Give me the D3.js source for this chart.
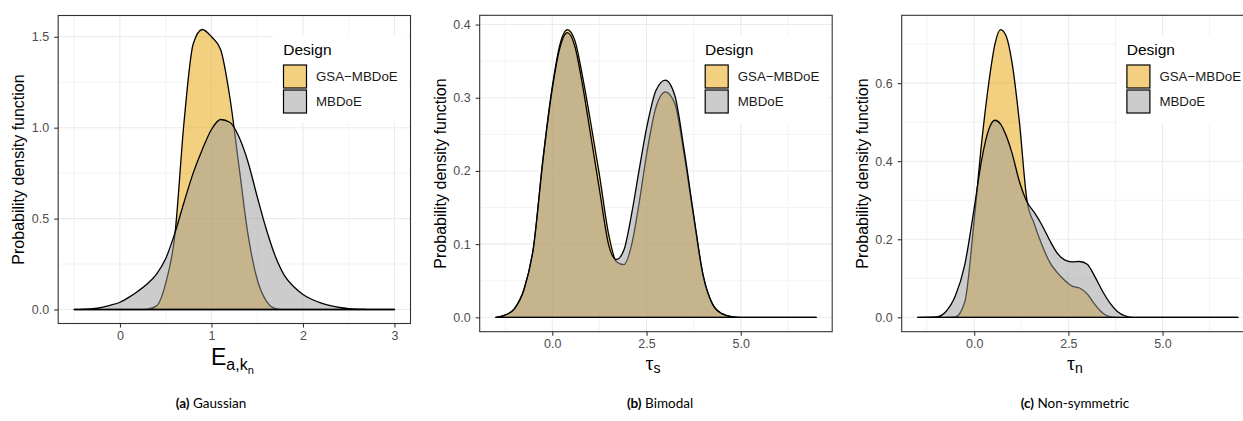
<!DOCTYPE html>
<html>
<head>
<meta charset="utf-8">
<script src="https://cdn.jsdelivr.net/npm/d3@7"></script>
<style>
  body { margin: 0; background: #fff; }
  svg { display: block; }
</style>
</head>
<body>
<div id="chart"></div>
<script>
// ================================
// Data
// ================================
const designs = ['GSA\u2212MBDoE', 'MBDoE'];

// (a) Gaussian
const gaussX = [-0.5, -0.4, -0.3, -0.2, -0.1, 0, 0.1, 0.2, 0.3, 0.4, 0.5, 0.6, 0.7, 0.8, 0.9, 1.0, 1.1, 1.2,
  1.3, 1.4, 1.5, 1.6, 1.7, 1.8, 1.9, 2.0, 2.1, 2.2, 2.3, 2.4, 2.5, 2.6, 2.7, 2.8, 3.0];
const gaussGSA = [0, 0, 0, 0, 0, 0, 0, 0, 0.002, 0.02, 0.145, 0.41, 1.03, 1.46, 1.54, 1.50, 1.43, 1.17,
  0.79, 0.41, 0.165, 0.046, 0.005, 0, 0, 0, 0, 0, 0, 0, 0, 0, 0, 0, 0];
const gaussMBDoE = [0, 0.002, 0.005, 0.012, 0.024, 0.04, 0.068, 0.102, 0.142, 0.195, 0.28, 0.42, 0.59, 0.75, 0.88, 0.99, 1.045, 1.03,
  0.95, 0.81, 0.62, 0.44, 0.29, 0.185, 0.125, 0.083, 0.055, 0.035, 0.021, 0.011, 0.005, 0.002, 0.001, 0, 0];
const gaussXTicks = [0, 1, 2, 3];
const gaussXMinor = [-0.5, 0.5, 1.5, 2.5];
const gaussYTicks = [0, 0.5, 1.0, 1.5];
const gaussYMinor = [0.25, 0.75, 1.25];

// (b) Bimodal
const bimodalX = [-1.5, -1.25, -1, -0.75, -0.5, -0.25, 0, 0.2, 0.4, 0.6, 0.8, 1.0, 1.25, 1.5, 1.7, 1.9,
  2.1, 2.3, 2.5, 2.75, 3.0, 3.25, 3.5, 3.75, 4.0, 4.25, 4.5, 4.75, 5, 5.5, 6, 7];
const bimodalGSA = [0, 0.003, 0.012, 0.038, 0.095, 0.215, 0.315, 0.372, 0.393, 0.378, 0.33, 0.272, 0.195, 0.112, 0.076, 0.072,
  0.098, 0.155, 0.222, 0.287, 0.308, 0.292, 0.222, 0.137, 0.057, 0.018, 0.005, 0.001, 0, 0, 0, 0];
const bimodalMBDoE = [0, 0.003, 0.012, 0.038, 0.095, 0.213, 0.312, 0.368, 0.389, 0.37, 0.318, 0.255, 0.175, 0.098, 0.079, 0.092,
  0.14, 0.2, 0.258, 0.31, 0.324, 0.303, 0.228, 0.14, 0.058, 0.018, 0.005, 0.001, 0, 0, 0, 0];
const bimodalXTicks = [0, 2.5, 5];
const bimodalXMinor = [-1.25, 1.25, 3.75, 6.25];
const bimodalYTicks = [0, 0.1, 0.2, 0.3, 0.4];
const bimodalYMinor = [0.05, 0.15, 0.25, 0.35];

// (c) Non-symmetric
const skewX = [-1.5, -1, -0.75, -0.5, -0.25, 0, 0.2, 0.4, 0.55, 0.7, 0.85, 1.0, 1.2, 1.4, 1.6, 1.8,
  2.0, 2.2, 2.4, 2.6, 2.8, 3.0, 3.2, 3.4, 3.6, 3.8, 4.0, 4.25, 4.5, 5, 6, 7];
const skewGSA = [0, 0, 0, 0.001, 0.04, 0.25, 0.45, 0.61, 0.70, 0.737, 0.72, 0.655, 0.50, 0.30, 0.238, 0.185,
  0.142, 0.115, 0.095, 0.08, 0.075, 0.06, 0.033, 0.012, 0.002, 0, 0, 0, 0, 0, 0, 0];
const skewMBDoE = [0, 0.001, 0.015, 0.055, 0.135, 0.28, 0.405, 0.485, 0.505, 0.495, 0.465, 0.422, 0.348, 0.296, 0.268, 0.236,
  0.198, 0.165, 0.147, 0.142, 0.143, 0.136, 0.105, 0.068, 0.037, 0.015, 0.004, 0, 0, 0, 0, 0];
const skewXTicks = [0, 2.5, 5];
const skewXMinor = [-1.25, 1.25, 3.75, 6.25];
const skewYTicks = [0, 0.2, 0.4, 0.6];
const skewYMinor = [0.1, 0.3, 0.5, 0.7];

const captionTags = ['(a)', '(b)', '(c)'];
const captionNames = ['Gaussian', 'Bimodal', 'Non-symmetric'];

// ================================
// Styling
// ================================
const SANS = '"Liberation Sans", Arial, sans-serif';
const fills = ['#E6A100', '#999999'];
const GRID = '#ebebeb';

const svg = d3.select('#chart')
  .append('svg')
  .attr('width', 1243)
  .attr('height', 421);

// ggplot-style 5% expansion
function expand([a, b]) {
  const r = b - a;
  return [a - r * 0.05, b + r * 0.05];
}

function fmtTick(v, dec) {
  return dec ? v.toFixed(1) : String(v);
}

// ================================
// One density panel
// ================================
function drawPanel(p) {
  const g = svg.append('g');

  const x = d3.scaleLinear()
    .domain(expand(d3.extent(p.xs)))
    .range([p.left, p.right]);
  const y = d3.scaleLinear()
    .domain(expand([0, d3.max(p.gsa.concat(p.mbdoe))]))
    .range([p.bottom, p.top]);

  // grid: minor first, then major
  p.xMinor.forEach(v => g.append('line')
    .attr('x1', x(v)).attr('x2', x(v)).attr('y1', p.top).attr('y2', p.bottom)
    .attr('stroke', GRID).attr('stroke-width', 0.6));
  p.yMinor.forEach(v => g.append('line')
    .attr('x1', p.left).attr('x2', p.right).attr('y1', y(v)).attr('y2', y(v))
    .attr('stroke', GRID).attr('stroke-width', 0.6));
  p.xTicks.forEach(v => g.append('line')
    .attr('x1', x(v)).attr('x2', x(v)).attr('y1', p.top).attr('y2', p.bottom)
    .attr('stroke', GRID).attr('stroke-width', 1.1));
  p.yTicks.forEach(v => g.append('line')
    .attr('x1', p.left).attr('x2', p.right).attr('y1', y(v)).attr('y2', y(v))
    .attr('stroke', GRID).attr('stroke-width', 1.1));

  // densities (GSA underneath, MBDoE on top)
  const area = d3.area()
    .x(d => x(d[0]))
    .y0(y(0))
    .y1(d => y(d[1]))
    .curve(d3.curveMonotoneX);

  [p.gsa, p.mbdoe].forEach((vals, i) => {
    g.append('path')
      .datum(p.xs.map((v, k) => [v, vals[k]]))
      .attr('d', area)
      .attr('fill', fills[i])
      .attr('fill-opacity', 0.5)
      .attr('stroke', '#000')
      .attr('stroke-width', 1.3)
      .attr('stroke-linejoin', 'round');
  });

  // legend (inside the panel, top right)
  const lx = p.right - 137;
  const lg = g.append('g');
  lg.append('rect')
    .attr('x', lx).attr('y', 35).attr('width', 133).attr('height', 88)
    .attr('fill', '#fff');
  lg.append('text')
    .attr('x', lx + 9.8).attr('y', 54.5)
    .attr('font-family', SANS).attr('font-size', '15.5px').attr('fill', '#000')
    .text('Design');
  designs.forEach((name, i) => {
    const ky = 65 + i * 25;
    lg.append('rect')
      .attr('x', lx + 10).attr('y', ky).attr('width', 23).attr('height', 23)
      .attr('fill', '#fff');
    lg.append('rect')
      .attr('x', lx + 10).attr('y', ky).attr('width', 23).attr('height', 23)
      .attr('fill', fills[i]).attr('fill-opacity', 0.5)
      .attr('stroke', '#000').attr('stroke-width', 1.2);
    lg.append('text')
      .attr('x', lx + 42.5).attr('y', ky + 16.3)
      .attr('font-family', SANS).attr('font-size', '13.3px').attr('fill', '#1a1a1a')
      .text(name);
  });

  // panel border
  g.append('rect')
    .attr('x', p.left).attr('y', p.top)
    .attr('width', p.right - p.left).attr('height', p.bottom - p.top)
    .attr('fill', 'none').attr('stroke', '#333').attr('stroke-width', 1.1);

  // axes
  const xAxis = g.append('g')
    .attr('transform', `translate(0,${p.bottom})`)
    .call(d3.axisBottom(x).tickValues(p.xTicks).tickSize(4)
      .tickFormat(v => fmtTick(v, p.xDec)));
  const yAxis = g.append('g')
    .attr('transform', `translate(${p.left},0)`)
    .call(d3.axisLeft(y).tickValues(p.yTicks).tickSize(4).tickPadding(5)
      .tickFormat(v => fmtTick(v, true)));
  [xAxis, yAxis].forEach(a => {
    a.select('.domain').remove();
    a.selectAll('line').attr('stroke', '#333').attr('stroke-width', 1.1);
    a.selectAll('text')
      .attr('font-family', SANS).attr('font-size', '12.5px').attr('fill', '#4d4d4d');
  });
  xAxis.selectAll('text').attr('dy', null).attr('y', 16.8);

  // y axis title
  g.append('text')
    .attr('transform', `translate(${p.left - 34},${(p.top + p.bottom) / 2}) rotate(-90)`)
    .attr('text-anchor', 'middle')
    .attr('font-family', SANS).attr('font-size', '16px').attr('fill', '#000')
    .text('Probability density function');

  // x axis title
  p.xTitle(g, (p.left + p.right) / 2);

  // caption
  const cap = svg.append('text')
    .attr('x', p.captionX).attr('y', 408)
    .attr('text-anchor', 'middle')
    .attr('font-family', 'Lato, "Open Sans", sans-serif').attr('font-size', '13.5px').attr('fill', '#000');
  cap.append('tspan').attr('font-weight', 'bold').text(p.tag);
  cap.append('tspan').text('\u00a0' + p.name);
}

// ================================
// Axis titles
// ================================
function titleE(g, cx) {
  const t = g.append('text')
    .attr('x', cx - 2).attr('y', 365)
    .attr('text-anchor', 'middle')
    .attr('font-family', SANS).attr('fill', '#000');
  t.append('tspan').attr('font-size', '23px').text('E');
  t.append('tspan').attr('font-size', '16px').attr('dy', 5).text('a,k');
  t.append('tspan').attr('font-size', '11px').attr('dy', 4).text('n');
}

function titleTau(sub) {
  return (g, cx) => {
    const t = g.append('text')
      .attr('x', cx - 3).attr('y', 369.5)
      .attr('text-anchor', 'middle')
      .attr('fill', '#000');
    t.append('tspan')
      .attr('font-family', '"Liberation Serif", "DejaVu Serif", serif')
      .attr('font-size', '20px').text('\u03c4');
    t.append('tspan')
      .attr('font-family', SANS)
      .attr('font-size', '14px').attr('dy', 3.5).text(sub);
  };
}

// ================================
// Panels
// ================================
const panels = [
  { xs: gaussX, gsa: gaussGSA, mbdoe: gaussMBDoE,
    xTicks: gaussXTicks, xMinor: gaussXMinor, yTicks: gaussYTicks, yMinor: gaussYMinor, xDec: false,
    left: 58.2, right: 410.5, top: 15.5, bottom: 323.5, xTitle: titleE },
  { xs: bimodalX, gsa: bimodalGSA, mbdoe: bimodalMBDoE,
    xTicks: bimodalXTicks, xMinor: bimodalXMinor, yTicks: bimodalYTicks, yMinor: bimodalYMinor, xDec: true,
    left: 479.7, right: 832.2, top: 15.3, bottom: 331.7, xTitle: titleTau('s') },
  { xs: skewX, gsa: skewGSA, mbdoe: skewMBDoE,
    xTicks: skewXTicks, xMinor: skewXMinor, yTicks: skewYTicks, yMinor: skewYMinor, xDec: true,
    left: 901.7, right: 1253.9, top: 15.3, bottom: 331.7, xTitle: titleTau('n') }
];
const captionXs = [211, 660, 1075];

panels.forEach((p, i) => {
  p.tag = captionTags[i];
  p.name = captionNames[i];
  p.captionX = captionXs[i];
  drawPanel(p);
});
</script>
</body>
</html>
